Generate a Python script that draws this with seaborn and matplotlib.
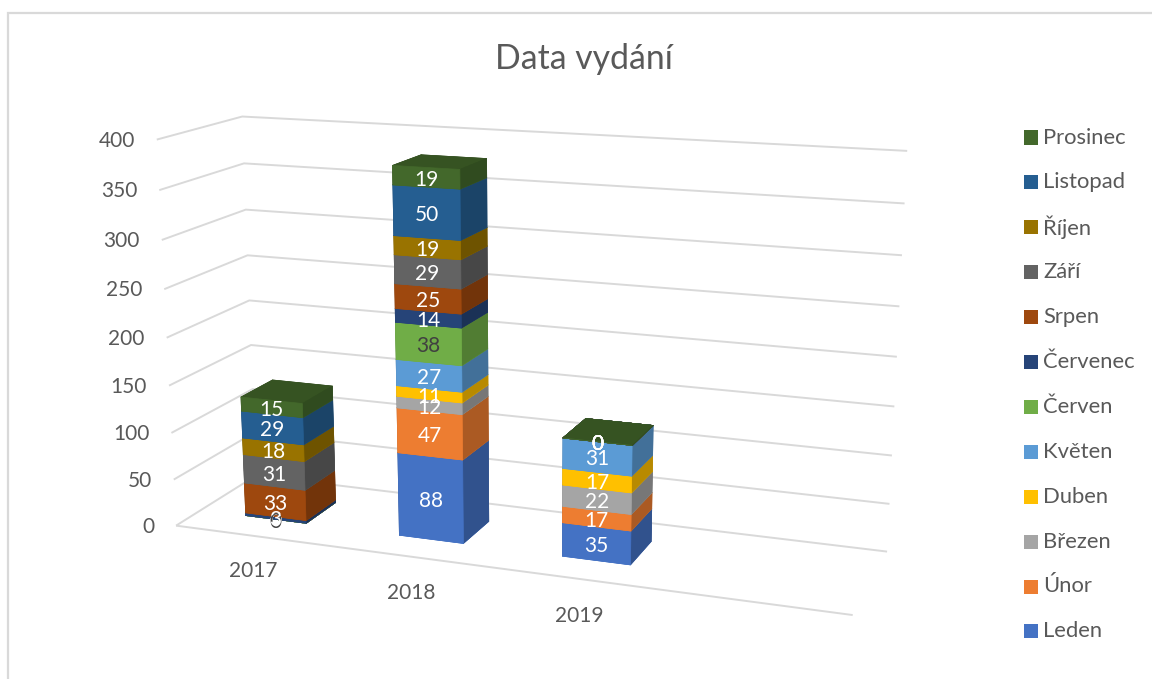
import numpy as np
import matplotlib
matplotlib.use("Agg")
import matplotlib.pyplot as plt
from matplotlib.patches import Rectangle
from matplotlib.colors import to_rgb
from mpl_toolkits.mplot3d.art3d import Line3DCollection
import seaborn as sns

# data
years = ["2017", "2018", "2019"]
months = ["Leden", "Únor", "Březen", "Duben", "Květen", "Červen",
          "Červenec", "Srpen", "Září", "Říjen", "Listopad", "Prosinec"]
values_2017 = [0, 0, 0, 0, 0, 0, 3, 33, 31, 18, 29, 15]
values_2018 = [88, 47, 12, 11, 27, 38, 14, 25, 29, 19, 50, 19]
values_2019 = [35, 17, 22, 17, 31, 0, 0, 0, 0, 0, 0, 0]
z_ticks = [0, 50, 100, 150, 200, 250, 300, 350, 400]
month_colors = ["#4472C4", "#ED7D31", "#A5A5A5", "#FFC000", "#5B9BD5", "#70AD47",
                "#264478", "#9E480E", "#636363", "#997300", "#255E91", "#43682B"]

W, H = 1152, 679
TEXT = "#595959"
GRID = "#D9D9D9"

# world point (category, depth, value) -> pixel in the reference, used to fit the camera
world_pts = np.array([
    (0, 0, 0), (0, 0, 50), (0, 0, 400), (0, 1, 400), (0, 1, 350),
    (4, 1, 400), (4, 1, 350), (4, 1, 50), (4, 1, 0), (4, 0, 0),
    (.3, .3, 0), (.7, .3, 0), (.7, .7, 0), (.3, .3, 129), (.7, .3, 129), (.3, .7, 129),
    (1.3, .3, 0), (1.7, .3, 0), (1.7, .7, 0), (1.3, .3, 379), (1.7, .3, 379), (1.7, .7, 379), (1.3, .7, 379),
    (2.3, .3, 0), (2.7, .3, 0), (2.7, .7, 0), (2.3, .3, 122), (2.7, .3, 122), (2.7, .7, 122),
], dtype=float)
pixel_pts = np.array([
    (176, 526), (173, 480), (156, 140), (243, 116), (244, 163),
    (907, 151), (905, 203), (889, 504), (887, 551), (853, 615),
    (246, 514), (307, 523), (335, 503), (242, 397), (303, 404), (272, 380),
    (399, 535), (463, 543), (488, 522), (393, 166), (460, 169), (487, 159), (420, 155),
    (563, 556), (631, 565), (652, 543), (563, 437), (631, 445), (653, 426),
], dtype=float)


def fit_camera(world, pixels):
    """Least squares 3x4 projective camera, world -> display pixels."""
    sw = np.diag([1 / 4, 1, 1 / 400, 1])
    sp = np.diag([1000.0, 1000.0, 1.0])
    rows = []
    for (x, y, z), (u, v) in zip(world, pixels):
        X = sw @ np.array([x, y, z, 1])
        u, v = u / 1000, (H - v) / 1000
        rows.append(np.r_[X, np.zeros(4), -u * X])
        rows.append(np.r_[np.zeros(4), X, -v * X])
    P = np.linalg.svd(np.array(rows))[2][-1].reshape(3, 4)
    P = sp @ P @ sw
    return P if P[2, 3] > 0 else -P


def shade(color, f):
    return tuple(c * f for c in to_rgb(color))


sns.set_theme(style="white")
plt.rcParams["font.family"] = ["Lato", "DejaVu Sans"]

fig = plt.figure(figsize=(W / 100, H / 100), dpi=100, facecolor="white")
# Axes3D forces a square box, so use one as wide as the figure
ax = fig.add_axes([0, (H - W) / 2 / H, 1, W / H], projection="3d", computed_zorder=False)
ax.set_axis_off()
ax.patch.set_visible(False)

camera = fit_camera(world_pts, pixel_pts)


def camera_proj():
    to_view = ax.transData.inverted().get_affine().get_matrix()
    P = to_view @ camera
    depth = np.array([-0.1, 1, -0.001, 0])
    return np.vstack([P[0], P[1], depth, P[2]])


ax.get_proj = camera_proj


def label(x, y, z, s, dx=0, dy=0, **kw):
    # text sits in figure space, at the projected point
    u, v, w = camera @ np.array([x, y, z, 1.0])
    fig.text((u / w + dx) / W, (v / w - dy) / H, s, va="center", **kw)


# walls and floor
segments = [[(0, 0, 0), (4, 0, 0)]]
for z in z_ticks:
    segments.append([(0, 0, z), (0, 1, z), (4, 1, z)])
    label(0, 0, z, str(z), dx=-22, dy=1, ha="right", color=TEXT, fontsize=15)
grid = Line3DCollection(segments, colors=GRID, linewidths=1.4, zorder=1)
ax.add_collection3d(grid, autolim=False)

# stacked bars
for i, (year, vals) in enumerate(zip(years, [values_2017, values_2018, values_2019])):
    base = 0
    for j, v in enumerate(vals):
        c = month_colors[j]
        side = shade(c, 0.72)
        faces = [c, shade(c, 0.8), c, side, side, side]
        ax.bar3d([i + 0.3], [0.3], [base], [0.4], [0.4], [v], color=faces, edgecolor=faces,
                 linewidth=0.5, shade=False, zorder=2 + j)
        label_color = "#404040" if months[j] == "Červen" else "white"
        label(i + 0.5, 0.3, base + v / 2, str(v), dy=2.5, ha="center", color=label_color, fontsize=15)
        base += v
    label(i + 0.5, 0, -38, year, ha="center", color=TEXT, fontsize=15)

# chart border
fig.add_artist(Rectangle((8 / W, -0.1), 1.1, 0.1 + 1 - 13 / H, transform=fig.transFigure,
                         fill=False, edgecolor=GRID, lw=1.6))

fig.text(584 / W, 1 - 59 / H, "Data vydání", ha="center", va="center", color=TEXT, fontsize=24.3)

# legend rows, evenly spaced like the original
for k, (name, c) in enumerate(zip(months[::-1], month_colors[::-1])):
    y = 137.5 + k * 44.9
    fig.add_artist(Rectangle((1024 / W, 1 - (y + 7) / H), 14 / W, 14 / H, transform=fig.transFigure,
                             facecolor=c, edgecolor="none"))
    fig.text(1043 / W, 1 - y / H, name, va="center", color=TEXT, fontsize=15.8)

fig.savefig("out.png", dpi=100)
